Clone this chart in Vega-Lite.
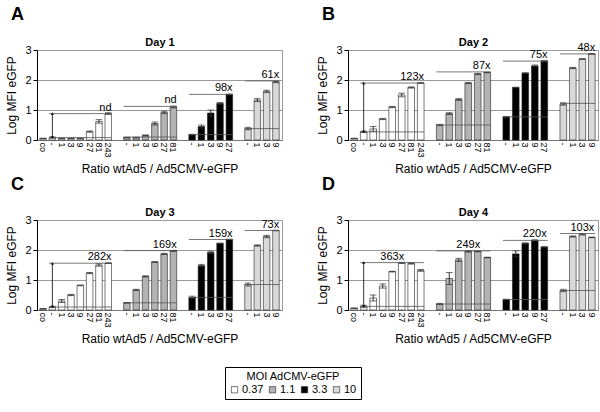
{
"$schema":"https://vega.github.io/schema/vega-lite/v6.json",
"datasets":{
"bars":[
{"day":1,"k":"p|co","moi":"0.37","v":0.05,"e":0.01},{"day":1,"k":"p|-","moi":"0.37","v":0.08,"e":0.02},{"day":1,"k":"p|1","moi":"0.37","v":0.05,"e":0.01},{"day":1,"k":"p|3","moi":"0.37","v":0.05,"e":0.01},{"day":1,"k":"p|9","moi":"0.37","v":0.05,"e":0.01},{"day":1,"k":"p|27","moi":"0.37","v":0.28,"e":0.02},{"day":1,"k":"p|81","moi":"0.37","v":0.62,"e":0.06},{"day":1,"k":"p|243","moi":"0.37","v":0.88,"e":0.03},
{"day":1,"k":"q|-","moi":"1.1","v":0.08,"e":0.01},{"day":1,"k":"q|1","moi":"1.1","v":0.08,"e":0.01},{"day":1,"k":"q|3","moi":"1.1","v":0.15,"e":0.02},{"day":1,"k":"q|9","moi":"1.1","v":0.55,"e":0.05},{"day":1,"k":"q|27","moi":"1.1","v":0.92,"e":0.04},{"day":1,"k":"q|81","moi":"1.1","v":1.1,"e":0.03},
{"day":1,"k":"r|-","moi":"3.3","v":0.18,"e":0.01},{"day":1,"k":"r|1","moi":"3.3","v":0.45,"e":0.05},{"day":1,"k":"r|3","moi":"3.3","v":0.9,"e":0.1},{"day":1,"k":"r|9","moi":"3.3","v":1.22,"e":0.03},{"day":1,"k":"r|27","moi":"3.3","v":1.52,"e":0.01},
{"day":1,"k":"s|-","moi":"10","v":0.38,"e":0.04},{"day":1,"k":"s|1","moi":"10","v":1.33,"e":0.05},{"day":1,"k":"s|3","moi":"10","v":1.62,"e":0.04},{"day":1,"k":"s|9","moi":"10","v":1.93,"e":0.02},
{"day":2,"k":"p|co","moi":"0.37","v":0.05,"e":0.01},{"day":2,"k":"p|-","moi":"0.37","v":0.27,"e":0.02},{"day":2,"k":"p|1","moi":"0.37","v":0.37,"e":0.08},{"day":2,"k":"p|3","moi":"0.37","v":0.7,"e":0.02},{"day":2,"k":"p|9","moi":"0.37","v":1.1,"e":0.02},{"day":2,"k":"p|27","moi":"0.37","v":1.5,"e":0.06},{"day":2,"k":"p|81","moi":"0.37","v":1.75,"e":0.02},{"day":2,"k":"p|243","moi":"0.37","v":1.9,"e":0.01},
{"day":2,"k":"q|-","moi":"1.1","v":0.5,"e":0.02},{"day":2,"k":"q|1","moi":"1.1","v":0.88,"e":0.03},{"day":2,"k":"q|3","moi":"1.1","v":1.35,"e":0.03},{"day":2,"k":"q|9","moi":"1.1","v":1.9,"e":0.02},{"day":2,"k":"q|27","moi":"1.1","v":2.2,"e":0.02},{"day":2,"k":"q|81","moi":"1.1","v":2.25,"e":0.01},
{"day":2,"k":"r|-","moi":"3.3","v":0.77,"e":0.01},{"day":2,"k":"r|1","moi":"3.3","v":1.75,"e":0.01},{"day":2,"k":"r|3","moi":"3.3","v":2.23,"e":0.01},{"day":2,"k":"r|9","moi":"3.3","v":2.47,"e":0.03},{"day":2,"k":"r|27","moi":"3.3","v":2.63,"e":0.02},
{"day":2,"k":"s|-","moi":"10","v":1.2,"e":0.04},{"day":2,"k":"s|1","moi":"10","v":2.4,"e":0.02},{"day":2,"k":"s|3","moi":"10","v":2.7,"e":0.01},{"day":2,"k":"s|9","moi":"10","v":2.87,"e":0.01},
{"day":3,"k":"p|co","moi":"0.37","v":0.04,"e":0.01},{"day":3,"k":"p|-","moi":"0.37","v":0.1,"e":0.02},{"day":3,"k":"p|1","moi":"0.37","v":0.3,"e":0.05},{"day":3,"k":"p|3","moi":"0.37","v":0.5,"e":0.02},{"day":3,"k":"p|9","moi":"0.37","v":0.82,"e":0.01},{"day":3,"k":"p|27","moi":"0.37","v":1.23,"e":0.02},{"day":3,"k":"p|81","moi":"0.37","v":1.5,"e":0.04},{"day":3,"k":"p|243","moi":"0.37","v":1.56,"e":0.01},
{"day":3,"k":"q|-","moi":"1.1","v":0.24,"e":0.01},{"day":3,"k":"q|1","moi":"1.1","v":0.67,"e":0.02},{"day":3,"k":"q|3","moi":"1.1","v":1.12,"e":0.02},{"day":3,"k":"q|9","moi":"1.1","v":1.6,"e":0.01},{"day":3,"k":"q|27","moi":"1.1","v":1.87,"e":0.02},{"day":3,"k":"q|81","moi":"1.1","v":1.97,"e":0.02},
{"day":3,"k":"r|-","moi":"3.3","v":0.42,"e":0.04},{"day":3,"k":"r|1","moi":"3.3","v":1.48,"e":0.04},{"day":3,"k":"r|3","moi":"3.3","v":1.92,"e":0.04},{"day":3,"k":"r|9","moi":"3.3","v":2.22,"e":0.01},{"day":3,"k":"r|27","moi":"3.3","v":2.35,"e":0.01},
{"day":3,"k":"s|-","moi":"10","v":0.85,"e":0.05},{"day":3,"k":"s|1","moi":"10","v":2.15,"e":0.02},{"day":3,"k":"s|3","moi":"10","v":2.45,"e":0.04},{"day":3,"k":"s|9","moi":"10","v":2.65,"e":0.01},
{"day":4,"k":"p|co","moi":"0.37","v":0.06,"e":0.01},{"day":4,"k":"p|-","moi":"0.37","v":0.12,"e":0.04},{"day":4,"k":"p|1","moi":"0.37","v":0.4,"e":0.1},{"day":4,"k":"p|3","moi":"0.37","v":0.8,"e":0.07},{"day":4,"k":"p|9","moi":"0.37","v":1.28,"e":0.01},{"day":4,"k":"p|27","moi":"0.37","v":1.57,"e":0.02},{"day":4,"k":"p|81","moi":"0.37","v":1.55,"e":0.02},{"day":4,"k":"p|243","moi":"0.37","v":1.32,"e":0.03},
{"day":4,"k":"q|-","moi":"1.1","v":0.2,"e":0.02},{"day":4,"k":"q|1","moi":"1.1","v":1.05,"e":0.2},{"day":4,"k":"q|3","moi":"1.1","v":1.67,"e":0.05},{"day":4,"k":"q|9","moi":"1.1","v":1.95,"e":0.02},{"day":4,"k":"q|27","moi":"1.1","v":1.95,"e":0.01},{"day":4,"k":"q|81","moi":"1.1","v":1.75,"e":0.01},
{"day":4,"k":"r|-","moi":"3.3","v":0.35,"e":0.01},{"day":4,"k":"r|1","moi":"3.3","v":1.87,"e":0.1},{"day":4,"k":"r|3","moi":"3.3","v":2.22,"e":0.02},{"day":4,"k":"r|9","moi":"3.3","v":2.32,"e":0.02},{"day":4,"k":"r|27","moi":"3.3","v":2.1,"e":0.01},
{"day":4,"k":"s|-","moi":"10","v":0.65,"e":0.04},{"day":4,"k":"s|1","moi":"10","v":2.45,"e":0.02},{"day":4,"k":"s|3","moi":"10","v":2.52,"e":0.02},{"day":4,"k":"s|9","moi":"10","v":2.42,"e":0.01}
],
"ann":[
{"day":1,"g":"p","s":"p|-","t":"p|243","m":"p|9","base":0.08,"top":0.88,"lab":"nd"},
{"day":1,"g":"q","s":"q|-","t":"q|81","m":"q|9","base":0.1,"top":1.12,"lab":"nd"},
{"day":1,"g":"r","s":"r|-","t":"r|27","m":"r|9","base":0.18,"top":1.52,"lab":"98x"},
{"day":1,"g":"s","s":"s|-","t":"s|9","m":"s|3","base":0.38,"top":1.97,"lab":"61x"},
{"day":2,"g":"p","s":"p|-","t":"p|243","m":"p|9","base":0.27,"top":1.9,"lab":"123x"},
{"day":2,"g":"q","s":"q|-","t":"q|81","m":"q|9","base":0.5,"top":2.27,"lab":"87x"},
{"day":2,"g":"r","s":"r|-","t":"r|27","m":"r|9","base":0.77,"top":2.63,"lab":"75x"},
{"day":2,"g":"s","s":"s|-","t":"s|9","m":"s|3","base":1.22,"top":2.87,"lab":"48x"},
{"day":3,"g":"p","s":"p|-","t":"p|243","m":"p|9","base":0.1,"top":1.56,"lab":"282x"},
{"day":3,"g":"q","s":"q|-","t":"q|81","m":"q|9","base":0.24,"top":1.98,"lab":"169x"},
{"day":3,"g":"r","s":"r|-","t":"r|27","m":"r|9","base":0.42,"top":2.35,"lab":"159x"},
{"day":3,"g":"s","s":"s|-","t":"s|9","m":"s|3","base":0.85,"top":2.65,"lab":"73x"},
{"day":4,"g":"p","s":"p|-","t":"p|243","m":"p|9","base":0.12,"top":1.58,"lab":"363x"},
{"day":4,"g":"q","s":"q|-","t":"q|81","m":"q|9","base":0.2,"top":1.97,"lab":"249x"},
{"day":4,"g":"r","s":"r|-","t":"r|27","m":"r|9","base":0.35,"top":2.32,"lab":"220x"},
{"day":4,"g":"s","s":"s|-","t":"s|9","m":"s|3","base":0.65,"top":2.55,"lab":"103x"}
]
},
"vconcat":[
{"hconcat":[
{"width":245,"height":90,"title":{"text":"A","offset":12},"resolve":{"axis":{"x":"independent"}},
"layer":[
{"data":{"name":"bars"},"transform":[{"filter":"datum.day==1"}],"mark":{"type":"bar","stroke":"#222","strokeWidth":0.6},
"encoding":{"x":{"field":"k","type":"nominal","scale":{"domain":["p|co","p|-","p|1","p|3","p|9","p|27","p|81","p|243","g1","q|-","q|1","q|3","q|9","q|27","q|81","g2","r|-","r|1","r|3","r|9","r|27","g3","s|-","s|1","s|3","s|9"],"paddingInner":0.3,"paddingOuter":0.3},"axis":{"orient":"bottom","labelExpr":"indexof(datum.value,'|')>=0 ? split(datum.value,'|')[1] : ''","labelAngle":90,"ticks":false,"title":"Ratio wtAd5 / Ad5CMV-eGFP"}},
"y":{"field":"v","type":"quantitative","scale":{"domain":[0,3]},"axis":{"values":[0,1,2,3]},"title":"Log MFI eGFP"},
"fill":{"field":"moi","type":"nominal","scale":{"domain":["0.37","1.1","3.3","10"],"range":["#ffffff","#b3b3b3","#000000","#d9d9d9"]},"title":"MOI AdCMV-eGFP"}}},
{"data":{"name":"bars"},"transform":[{"filter":"datum.day==1"}],"mark":{"type":"errorbar","ticks":true,"color":"#333"},
"encoding":{"x":{"field":"k","type":"nominal","axis":null},"y":{"field":"v","type":"quantitative","axis":{"values":[0,1,2,3]},"title":"Log MFI eGFP"},"yError":{"field":"e"}}},
{"data":{"name":"ann"},"transform":[{"filter":"datum.day==1"}],"mark":{"type":"rule","color":"#555","strokeWidth":0.8},
"encoding":{"x":{"field":"s","type":"nominal","bandPosition":0,"axis":null},"x2":{"field":"t","bandPosition":1},"y":{"field":"base","type":"quantitative","axis":{"values":[0,1,2,3]},"title":"Log MFI eGFP"}}},
{"data":{"name":"ann"},"transform":[{"filter":"datum.day==1"}],"mark":{"type":"rule","color":"#555","strokeWidth":0.8},
"encoding":{"x":{"field":"s","type":"nominal","bandPosition":0,"axis":null},"x2":{"field":"t","bandPosition":1},"y":{"field":"top","type":"quantitative","axis":{"values":[0,1,2,3]},"title":"Log MFI eGFP"}}},
{"data":{"name":"ann"},"transform":[{"filter":"datum.day==1"}],"mark":{"type":"text","align":"right","baseline":"bottom","dy":-1,"fontSize":11},
"encoding":{"x":{"field":"t","type":"nominal","bandPosition":1,"axis":null},"y":{"field":"top","type":"quantitative","axis":{"values":[0,1,2,3]},"title":"Log MFI eGFP"},"text":{"field":"lab"}}},
{"data":{"name":"ann"},"transform":[{"filter":"datum.day==1 && datum.g=='p'"}],"mark":{"type":"rule","color":"#000","strokeWidth":0.8},
"encoding":{"x":{"field":"s","type":"nominal","axis":{"orient":"top","labels":false,"ticks":false,"domain":false,"grid":false,"title":"Day 1","titleFontWeight":"bold","titleFontSize":11,"titlePadding":3}},"y":{"field":"base","type":"quantitative","axis":{"values":[0,1,2,3]},"title":"Log MFI eGFP"},"y2":{"field":"top"}}},
{"data":{"name":"ann"},"transform":[{"filter":"datum.day==1 && datum.g=='p'"}],"mark":{"type":"point","shape":"triangle-up","filled":true,"color":"#000","size":12},
"encoding":{"x":{"field":"s","type":"nominal","axis":null},"y":{"field":"top","type":"quantitative","axis":{"values":[0,1,2,3]},"title":"Log MFI eGFP"}}},
{"data":{"name":"ann"},"transform":[{"filter":"datum.day==1 && datum.g=='p'"}],"mark":{"type":"point","shape":"triangle-down","filled":true,"color":"#000","size":12},
"encoding":{"x":{"field":"s","type":"nominal","axis":null},"y":{"field":"base","type":"quantitative","axis":{"values":[0,1,2,3]},"title":"Log MFI eGFP"}}}
]},
{"width":250,"height":90,"title":{"text":"B","offset":12},"resolve":{"axis":{"x":"independent"}},
"layer":[
{"data":{"name":"bars"},"transform":[{"filter":"datum.day==2"}],"mark":{"type":"bar","stroke":"#222","strokeWidth":0.6},
"encoding":{"x":{"field":"k","type":"nominal","scale":{"domain":["p|co","p|-","p|1","p|3","p|9","p|27","p|81","p|243","g1","q|-","q|1","q|3","q|9","q|27","q|81","g2","r|-","r|1","r|3","r|9","r|27","g3","s|-","s|1","s|3","s|9"],"paddingInner":0.3,"paddingOuter":0.3},"axis":{"orient":"bottom","labelExpr":"indexof(datum.value,'|')>=0 ? split(datum.value,'|')[1] : ''","labelAngle":90,"ticks":false,"title":"Ratio wtAd5 / Ad5CMV-eGFP"}},
"y":{"field":"v","type":"quantitative","scale":{"domain":[0,3]},"axis":{"values":[0,1,2,3]},"title":"Log MFI eGFP"},
"fill":{"field":"moi","type":"nominal","scale":{"domain":["0.37","1.1","3.3","10"],"range":["#ffffff","#b3b3b3","#000000","#d9d9d9"]},"title":"MOI AdCMV-eGFP"}}},
{"data":{"name":"bars"},"transform":[{"filter":"datum.day==2"}],"mark":{"type":"errorbar","ticks":true,"color":"#333"},
"encoding":{"x":{"field":"k","type":"nominal","axis":null},"y":{"field":"v","type":"quantitative","axis":{"values":[0,1,2,3]},"title":"Log MFI eGFP"},"yError":{"field":"e"}}},
{"data":{"name":"ann"},"transform":[{"filter":"datum.day==2"}],"mark":{"type":"rule","color":"#555","strokeWidth":0.8},
"encoding":{"x":{"field":"s","type":"nominal","bandPosition":0,"axis":null},"x2":{"field":"t","bandPosition":1},"y":{"field":"base","type":"quantitative","axis":{"values":[0,1,2,3]},"title":"Log MFI eGFP"}}},
{"data":{"name":"ann"},"transform":[{"filter":"datum.day==2"}],"mark":{"type":"rule","color":"#555","strokeWidth":0.8},
"encoding":{"x":{"field":"s","type":"nominal","bandPosition":0,"axis":null},"x2":{"field":"t","bandPosition":1},"y":{"field":"top","type":"quantitative","axis":{"values":[0,1,2,3]},"title":"Log MFI eGFP"}}},
{"data":{"name":"ann"},"transform":[{"filter":"datum.day==2"}],"mark":{"type":"text","align":"right","baseline":"bottom","dy":-1,"fontSize":11},
"encoding":{"x":{"field":"t","type":"nominal","bandPosition":1,"axis":null},"y":{"field":"top","type":"quantitative","axis":{"values":[0,1,2,3]},"title":"Log MFI eGFP"},"text":{"field":"lab"}}},
{"data":{"name":"ann"},"transform":[{"filter":"datum.day==2 && datum.g=='p'"}],"mark":{"type":"rule","color":"#000","strokeWidth":0.8},
"encoding":{"x":{"field":"s","type":"nominal","axis":{"orient":"top","labels":false,"ticks":false,"domain":false,"grid":false,"title":"Day 2","titleFontWeight":"bold","titleFontSize":11,"titlePadding":3}},"y":{"field":"base","type":"quantitative","axis":{"values":[0,1,2,3]},"title":"Log MFI eGFP"},"y2":{"field":"top"}}},
{"data":{"name":"ann"},"transform":[{"filter":"datum.day==2 && datum.g=='p'"}],"mark":{"type":"point","shape":"triangle-up","filled":true,"color":"#000","size":12},
"encoding":{"x":{"field":"s","type":"nominal","axis":null},"y":{"field":"top","type":"quantitative","axis":{"values":[0,1,2,3]},"title":"Log MFI eGFP"}}},
{"data":{"name":"ann"},"transform":[{"filter":"datum.day==2 && datum.g=='p'"}],"mark":{"type":"point","shape":"triangle-down","filled":true,"color":"#000","size":12},
"encoding":{"x":{"field":"s","type":"nominal","axis":null},"y":{"field":"base","type":"quantitative","axis":{"values":[0,1,2,3]},"title":"Log MFI eGFP"}}}
]}
]},
{"hconcat":[
{"width":245,"height":90,"title":{"text":"C","offset":12},"resolve":{"axis":{"x":"independent"}},
"layer":[
{"data":{"name":"bars"},"transform":[{"filter":"datum.day==3"}],"mark":{"type":"bar","stroke":"#222","strokeWidth":0.6},
"encoding":{"x":{"field":"k","type":"nominal","scale":{"domain":["p|co","p|-","p|1","p|3","p|9","p|27","p|81","p|243","g1","q|-","q|1","q|3","q|9","q|27","q|81","g2","r|-","r|1","r|3","r|9","r|27","g3","s|-","s|1","s|3","s|9"],"paddingInner":0.3,"paddingOuter":0.3},"axis":{"orient":"bottom","labelExpr":"indexof(datum.value,'|')>=0 ? split(datum.value,'|')[1] : ''","labelAngle":90,"ticks":false,"title":"Ratio wtAd5 / Ad5CMV-eGFP"}},
"y":{"field":"v","type":"quantitative","scale":{"domain":[0,3]},"axis":{"values":[0,1,2,3]},"title":"Log MFI eGFP"},
"fill":{"field":"moi","type":"nominal","scale":{"domain":["0.37","1.1","3.3","10"],"range":["#ffffff","#b3b3b3","#000000","#d9d9d9"]},"title":"MOI AdCMV-eGFP"}}},
{"data":{"name":"bars"},"transform":[{"filter":"datum.day==3"}],"mark":{"type":"errorbar","ticks":true,"color":"#333"},
"encoding":{"x":{"field":"k","type":"nominal","axis":null},"y":{"field":"v","type":"quantitative","axis":{"values":[0,1,2,3]},"title":"Log MFI eGFP"},"yError":{"field":"e"}}},
{"data":{"name":"ann"},"transform":[{"filter":"datum.day==3"}],"mark":{"type":"rule","color":"#555","strokeWidth":0.8},
"encoding":{"x":{"field":"s","type":"nominal","bandPosition":0,"axis":null},"x2":{"field":"t","bandPosition":1},"y":{"field":"base","type":"quantitative","axis":{"values":[0,1,2,3]},"title":"Log MFI eGFP"}}},
{"data":{"name":"ann"},"transform":[{"filter":"datum.day==3"}],"mark":{"type":"rule","color":"#555","strokeWidth":0.8},
"encoding":{"x":{"field":"s","type":"nominal","bandPosition":0,"axis":null},"x2":{"field":"t","bandPosition":1},"y":{"field":"top","type":"quantitative","axis":{"values":[0,1,2,3]},"title":"Log MFI eGFP"}}},
{"data":{"name":"ann"},"transform":[{"filter":"datum.day==3"}],"mark":{"type":"text","align":"right","baseline":"bottom","dy":-1,"fontSize":11},
"encoding":{"x":{"field":"t","type":"nominal","bandPosition":1,"axis":null},"y":{"field":"top","type":"quantitative","axis":{"values":[0,1,2,3]},"title":"Log MFI eGFP"},"text":{"field":"lab"}}},
{"data":{"name":"ann"},"transform":[{"filter":"datum.day==3 && datum.g=='p'"}],"mark":{"type":"rule","color":"#000","strokeWidth":0.8},
"encoding":{"x":{"field":"s","type":"nominal","axis":{"orient":"top","labels":false,"ticks":false,"domain":false,"grid":false,"title":"Day 3","titleFontWeight":"bold","titleFontSize":11,"titlePadding":3}},"y":{"field":"base","type":"quantitative","axis":{"values":[0,1,2,3]},"title":"Log MFI eGFP"},"y2":{"field":"top"}}},
{"data":{"name":"ann"},"transform":[{"filter":"datum.day==3 && datum.g=='p'"}],"mark":{"type":"point","shape":"triangle-up","filled":true,"color":"#000","size":12},
"encoding":{"x":{"field":"s","type":"nominal","axis":null},"y":{"field":"top","type":"quantitative","axis":{"values":[0,1,2,3]},"title":"Log MFI eGFP"}}},
{"data":{"name":"ann"},"transform":[{"filter":"datum.day==3 && datum.g=='p'"}],"mark":{"type":"point","shape":"triangle-down","filled":true,"color":"#000","size":12},
"encoding":{"x":{"field":"s","type":"nominal","axis":null},"y":{"field":"base","type":"quantitative","axis":{"values":[0,1,2,3]},"title":"Log MFI eGFP"}}}
]},
{"width":250,"height":90,"title":{"text":"D","offset":12},"resolve":{"axis":{"x":"independent"}},
"layer":[
{"data":{"name":"bars"},"transform":[{"filter":"datum.day==4"}],"mark":{"type":"bar","stroke":"#222","strokeWidth":0.6},
"encoding":{"x":{"field":"k","type":"nominal","scale":{"domain":["p|co","p|-","p|1","p|3","p|9","p|27","p|81","p|243","g1","q|-","q|1","q|3","q|9","q|27","q|81","g2","r|-","r|1","r|3","r|9","r|27","g3","s|-","s|1","s|3","s|9"],"paddingInner":0.3,"paddingOuter":0.3},"axis":{"orient":"bottom","labelExpr":"indexof(datum.value,'|')>=0 ? split(datum.value,'|')[1] : ''","labelAngle":90,"ticks":false,"title":"Ratio wtAd5 / Ad5CMV-eGFP"}},
"y":{"field":"v","type":"quantitative","scale":{"domain":[0,3]},"axis":{"values":[0,1,2,3]},"title":"Log MFI eGFP"},
"fill":{"field":"moi","type":"nominal","scale":{"domain":["0.37","1.1","3.3","10"],"range":["#ffffff","#b3b3b3","#000000","#d9d9d9"]},"title":"MOI AdCMV-eGFP"}}},
{"data":{"name":"bars"},"transform":[{"filter":"datum.day==4"}],"mark":{"type":"errorbar","ticks":true,"color":"#333"},
"encoding":{"x":{"field":"k","type":"nominal","axis":null},"y":{"field":"v","type":"quantitative","axis":{"values":[0,1,2,3]},"title":"Log MFI eGFP"},"yError":{"field":"e"}}},
{"data":{"name":"ann"},"transform":[{"filter":"datum.day==4"}],"mark":{"type":"rule","color":"#555","strokeWidth":0.8},
"encoding":{"x":{"field":"s","type":"nominal","bandPosition":0,"axis":null},"x2":{"field":"t","bandPosition":1},"y":{"field":"base","type":"quantitative","axis":{"values":[0,1,2,3]},"title":"Log MFI eGFP"}}},
{"data":{"name":"ann"},"transform":[{"filter":"datum.day==4"}],"mark":{"type":"rule","color":"#555","strokeWidth":0.8},
"encoding":{"x":{"field":"s","type":"nominal","bandPosition":0,"axis":null},"x2":{"field":"t","bandPosition":1},"y":{"field":"top","type":"quantitative","axis":{"values":[0,1,2,3]},"title":"Log MFI eGFP"}}},
{"data":{"name":"ann"},"transform":[{"filter":"datum.day==4"}],"mark":{"type":"text","align":"center","baseline":"bottom","dy":-1,"fontSize":11},
"encoding":{"x":{"field":"m","type":"nominal","axis":null},"y":{"field":"top","type":"quantitative","axis":{"values":[0,1,2,3]},"title":"Log MFI eGFP"},"text":{"field":"lab"}}},
{"data":{"name":"ann"},"transform":[{"filter":"datum.day==4 && datum.g=='p'"}],"mark":{"type":"rule","color":"#000","strokeWidth":0.8},
"encoding":{"x":{"field":"s","type":"nominal","axis":{"orient":"top","labels":false,"ticks":false,"domain":false,"grid":false,"title":"Day 4","titleFontWeight":"bold","titleFontSize":11,"titlePadding":3}},"y":{"field":"base","type":"quantitative","axis":{"values":[0,1,2,3]},"title":"Log MFI eGFP"},"y2":{"field":"top"}}},
{"data":{"name":"ann"},"transform":[{"filter":"datum.day==4 && datum.g=='p'"}],"mark":{"type":"point","shape":"triangle-up","filled":true,"color":"#000","size":12},
"encoding":{"x":{"field":"s","type":"nominal","axis":null},"y":{"field":"top","type":"quantitative","axis":{"values":[0,1,2,3]},"title":"Log MFI eGFP"}}},
{"data":{"name":"ann"},"transform":[{"filter":"datum.day==4 && datum.g=='p'"}],"mark":{"type":"point","shape":"triangle-down","filled":true,"color":"#000","size":12},
"encoding":{"x":{"field":"s","type":"nominal","axis":null},"y":{"field":"base","type":"quantitative","axis":{"values":[0,1,2,3]},"title":"Log MFI eGFP"}}}
]}
]}
],
"spacing":0,
"resolve":{"scale":{"fill":"shared"}},
"config":{
"font":"Liberation Sans",
"view":{"stroke":"#9a9a9a","strokeWidth":1},
"concat":{"spacing":33},
"title":{"anchor":"start","frame":"bounds","fontSize":18,"fontWeight":"bold","color":"#000","dx":5},
"axisX":{"grid":false,"labelFontSize":9,"labelColor":"#000","domainColor":"#777","titleFontSize":12,"titleFontWeight":"normal","titleColor":"#000","labelPadding":2,"titlePadding":6},
"axisY":{"grid":true,"gridColor":"#9a9a9a","domainColor":"#000","tickColor":"#000","tickSize":4,"labelFontSize":11,"labelColor":"#000","titleFontSize":12,"titleFontWeight":"normal","titleColor":"#000","labelPadding":2,"titlePadding":6},
"legend":{"orient":"none","legendX":188,"legendY":317,"direction":"horizontal","titleAnchor":"middle","strokeColor":"#000","padding":4,"titleFontSize":11,"titleFontWeight":"normal","labelFontSize":11,"symbolType":"square","symbolSize":40,"symbolStrokeColor":"#222","symbolStrokeWidth":0.6,"columnPadding":3,"labelOffset":2,"titlePadding":2}
}
}
